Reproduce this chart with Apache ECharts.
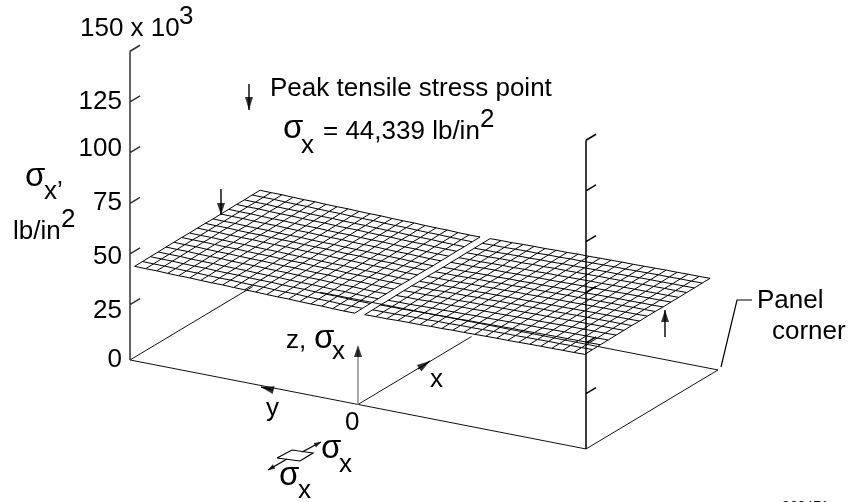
<!DOCTYPE html>
<html><head><meta charset="utf-8">
<style>html,body{margin:0;padding:0;background:#fff;overflow:hidden}#c{width:849px;height:502px}</style>
<script src="https://cdn.jsdelivr.net/npm/echarts@6/dist/echarts.min.js"></script>
</head><body><div id="c"></div>
<script>
// ---- data (stress in 10^3 lb/in^2) ----
const zTicks = [25, 50, 75, 100, 125, 150];
const zTickLabels = ['0', '25', '50', '75', '100', '125', '150 x 10'];
const sigmaLeftPanel = [43.3,43.2,43.2,43.0,42.9,42.9,42.7,42.6,42.6,42.4,42.3,42.3,42.1,42.0,42.0,41.8,41.7,41.7,41.5,41.4,41.4];
const sigmaRightPanel = [41.6,41.7,41.7,41.9,42.0,42.0,42.2,42.2,42.4,42.4,42.5,42.6,42.7,42.7,42.8,42.9,43.0,43.0,43.1,43.1,43.2];
const sigmaAcrossOffset = [-0.25,-0.2,-0.1,-0.1,0,0.05,0.1,0,0.1,0.1,0,0.1,0.1,0.2,0.15,0.25,0.25];

// ---- 3D projection: u along x, v along y (both -1..1), z in ksi ----
const plateLevel = -2.3;
function project(u, v, z) {
  return [424 + 66 * u - 228 * v, 360.3 - 39.5 * u - 44.5 * v - 2.027 * z];
}
const BREAK = ['-', '-'];
const uEdge = 0.95, vOuter = 0.987, vInner = 0.022, vShift = 0.007;

function panelMesh(profile, vA, vB) {
  const out = [];
  const nV = profile.length, nU = sigmaAcrossOffset.length;
  const uAt = i => -uEdge + 2 * uEdge * i / (nU - 1);
  const vAt = j => vA + (vB - vA) * j / (nV - 1) + vShift;
  for (let i = 0; i < nU; i++) {
    for (let j = 0; j < nV; j++) out.push(project(uAt(i), vAt(j), profile[j] + sigmaAcrossOffset[i]));
    out.push(BREAK);
  }
  for (let j = 0; j < nV; j++) {
    for (let i = 0; i < nU; i++) out.push(project(uAt(i), vAt(j), profile[j] + sigmaAcrossOffset[i]));
    out.push(BREAK);
  }
  return out;
}
const meshData = panelMesh(sigmaLeftPanel, vOuter, vInner).concat(panelMesh(sigmaRightPanel, -vInner, -vOuter));

// base plate: the parts that the surface hides are left out
const plateData = [
  project(-0.86 + 1.72, 1, plateLevel), project(-1, 1, plateLevel), project(-1, -1, plateLevel),
  project(1, -1, plateLevel), project(1, 0.746, plateLevel), BREAK,
  project(-1, 0, plateLevel), project(0.72, 0, plateLevel)
];
function axisData(v) {
  const out = [project(-1, v, plateLevel), project(-1, v, 150), BREAK];
  zTicks.forEach(z => {
    const a = project(-1, v, z);
    out.push(a, [a[0] + 10, a[1] - 6], BREAK);
  });
  return out;
}
const leftAxisData = axisData(1);
const rightAxisData = axisData(-1);

// arrows: [tailX, tailY, tipX, tipY, headWidth, headLength]
const blackArrows = [
  [249, 84, 249, 110, 8, 13],
  [221, 189, 221, 215, 8, 12],
  [665, 337, 665, 310, 8, 12],
  [302, 452, 321, 442, 5, 7],
  [287, 459, 268, 470, 5, 7],
  [418, 369, 430, 361, 8, 13],
  [273, 390, 261, 387, 8, 13]
];
const zArrow = [358, 405, 358, 345, 8, 12];
const allArrows = blackArrows.concat([zArrow]);

const shaftData = [];
blackArrows.forEach(a => { shaftData.push([a[0], a[1]], [a[2], a[3]], BREAK); });
const headData = allArrows.map(a => {
  const dx = a[2] - a[0], dy = a[3] - a[1], len = Math.hypot(dx, dy);
  return {
    value: [a[2] - dx / len * a[5] / 2, a[3] - dy / len * a[5] / 2],
    symbolSize: [a[4], a[5]],
    symbolRotate: -Math.atan2(dx, -dy) * 180 / Math.PI
  };
});
const extraLines = [
  [277, 458], [292, 450], [313, 453], [300, 461], [277, 458], BREAK,
  [721, 367], [737, 300], [752, 300]
];

function line(name, data, color, width, z) {
  return { name, type: 'line', data, showSymbol: false, symbol: 'none', clip: false, silent: true, animation: false,
    connectNulls: false, lineStyle: { color, width, cap: 'butt', join: 'miter' }, z };
}

const FONT = '"Liberation Sans", Arial, sans-serif';
function txt(text, x, y, size, align) {
  return { type: 'text', x, y, z: 20, silent: true,
    style: { text, font: (size || 26) + 'px ' + FONT, fill: '#000', textAlign: align || 'left', textVerticalAlign: 'middle' } };
}
const sigma = '\u03c3';
const labelY = [360, 311, 257, 203, 149, 102];
const texts = [];
labelY.forEach((y, i) => texts.push(txt(zTickLabels[i], 122, y, 26, 'right')));
texts.push(
  txt(zTickLabels[6], 80, 29), txt('3', 179, 17),
  txt(sigma, 25, 177, 33), txt('x\u2019', 44, 192), txt('lb/in', 13, 232), txt('2', 61, 220),
  txt('Peak tensile stress point', 270, 89),
  txt(sigma, 283, 129, 33), txt('x', 301, 146), txt('= 44,339 lb/in', 323, 132), txt('2', 480, 120),
  txt('z,', 286, 341), txt(sigma, 314, 339, 33), txt('x', 332, 352),
  txt('x', 430, 380), txt('y', 266, 409), txt('0', 345, 423),
  txt(sigma, 321, 449, 33), txt('x', 339, 465),
  txt(sigma, 279, 476, 33), txt('x', 298, 491),
  txt('Panel', 757, 301), txt('corner', 772, 332),
  txt('960471', 782, 507, 14)
);

const chart = echarts.init(document.getElementById('c'), null, { renderer: 'canvas' });
chart.setOption({
  backgroundColor: '#fff',
  animation: false,
  grid: { left: 0, right: 0, top: 0, bottom: 0 },
  xAxis: { type: 'value', min: 0, max: 849, show: false },
  yAxis: { type: 'value', min: 0, max: 502, inverse: true, show: false },
  series: [
    line('panel base', plateData, '#111', 1, 1),
    line('stress surface', meshData, '#000', 1, 2),
    line('left z axis', leftAxisData, '#333', 1.5, 3),
    line('right z axis', rightAxisData, '#000', 1.5, 3),
    line('z arrow', [[358, 405], [358, 350]], '#777', 1.3, 3),
    line('arrow shafts', shaftData, '#000', 1.4, 4),
    line('details', extraLines, '#000', 1.2, 4),
    { name: 'arrow heads', type: 'scatter', data: headData, symbol: 'triangle', clip: false, silent: true,
      itemStyle: { color: '#000' }, z: 5, animation: false }
  ],
  graphic: { elements: texts }
});
</script></body></html>
